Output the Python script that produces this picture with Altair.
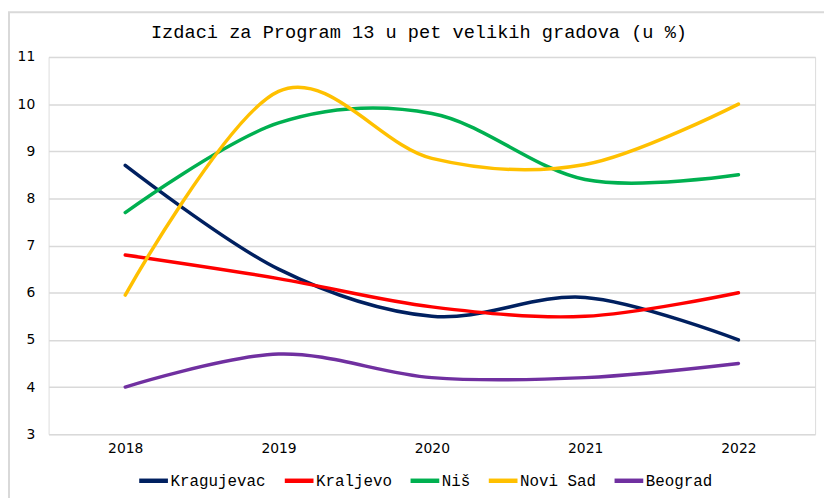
import altair as alt
import pandas as pd

title_text = "Izdaci za Program 13 u pet velikih gradova (u %)"
years = ["2018", "2019", "2020", "2021", "2022"]
series = ["Kragujevac", "Kraljevo", "Niš", "Novi Sad", "Beograd"]
colors = ["#002060", "#FF0000", "#00B050", "#FFC000", "#7030A0"]
kragujevac = [8.7, 6.5, 5.5, 5.9, 5.0]
kraljevo = [6.8, 6.3, 5.7, 5.5, 6.0]
nis = [7.7, 9.6, 9.8, 8.4, 8.5]
novi_sad = [5.95, 10.27, 8.85, 8.72, 10.0]
beograd = [4.0, 4.7, 4.2, 4.2, 4.5]

values = [kragujevac, kraljevo, nis, novi_sad, beograd]
rows = []
for i, (s, vals) in enumerate(zip(series, values)):
    for y, v in zip(years, vals):
        rows.append({"Godina": y, "Grad": s, "Vrednost": v, "ord": i})
df = pd.DataFrame(rows)

W, H = 774, 381

one = pd.DataFrame({"a": [0]})

frame = alt.Chart(one).mark_rect(
    fill=None, stroke="#d9d9d9", strokeWidth=2
).encode(
    x=alt.value(-40), x2=alt.value(W + 40), y=alt.value(-45), y2=alt.value(H + 80)
)

title = alt.Chart(one).mark_text(
    font="Liberation Mono", fontSize=18.8, color="#000000",
    align="center", baseline="middle"
).encode(
    x=alt.value(W / 2 - 13), y=alt.value(-25), text=alt.value(title_text)
)

lines = alt.Chart(df).mark_line(
    interpolate="cardinal", strokeWidth=3.5, strokeCap="round"
).encode(
    x=alt.X("Godina:N", sort=years,
            scale=alt.Scale(type="point", padding=0.5),
            axis=alt.Axis(title=None, labelAngle=0, domain=False, ticks=False,
                          labelFont="DejaVu Sans", labelFontSize=14,
                          labelColor="#000000", labelPadding=7)),
    y=alt.Y("Vrednost:Q",
            scale=alt.Scale(domain=[3, 11], nice=False, zero=False),
            axis=alt.Axis(title=None, values=list(range(3, 12)), domain=False,
                          ticks=False, grid=True, gridColor="#d9d9d9",
                          gridWidth=1.5, labelFont="DejaVu Sans",
                          labelFontSize=14, labelColor="#000000",
                          labelPadding=14)),
    color=alt.Color("Grad:N", sort=series,
                    scale=alt.Scale(domain=series, range=colors),
                    legend=alt.Legend(title=None, orient="none",
                                      direction="horizontal",
                                      legendX=89, legendY=411,
                                      symbolType="stroke", symbolSize=841,
                                      symbolStrokeWidth=4.5,
                                      labelFont="Liberation Mono",
                                      labelFontSize=16, labelColor="#000000",
                                      labelOffset=0, columnPadding=9)),
    order=alt.Order("ord:Q"),
    detail="Grad:N",
)

chart = alt.layer(frame, title, lines).properties(
    width=W, height=H,
    autosize=alt.AutoSizeParams(type="none"),
    padding={"left": 41, "top": 47, "right": 9, "bottom": 62},
).configure_view(stroke=None).configure(background="#ffffff")

chart.save("out.html", embed_options={"renderer": "svg", "actions": False})
